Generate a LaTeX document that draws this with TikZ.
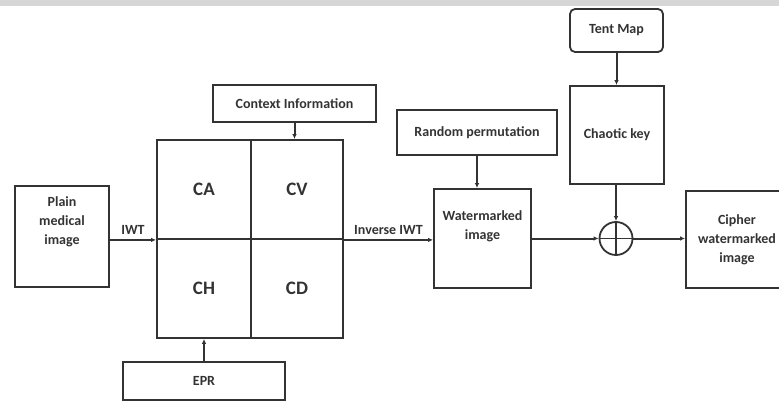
\documentclass[tikz,border=0pt]{standalone}
\usepackage{fontspec}
\setmainfont{Carlito}
\usetikzlibrary{arrows.meta}
\definecolor{ink}{HTML}{333333}
\definecolor{band}{HTML}{D6D6D6}
\begin{document}
\begin{tikzpicture}[x=1pt,y=-1pt,
  every node/.style={text=ink, font=\bfseries\fontsize{14}{19}\selectfont},
  box/.style={draw=ink, line width=1.8pt, inner sep=0pt},
  quad/.style={box, minimum width=#1, minimum height=99,
    font=\bfseries\fontsize{19}{22}\selectfont},
  link/.style={draw=ink, line width=2pt, -{Latex[length=5pt,width=4.5pt]}},
  wire/.style={draw=ink, line width=1.8pt}]
\clip (0,0) rectangle (779,401);
\fill[band] (0,0) rectangle (779,6);

% input image
\node[box, minimum width=94, minimum height=101] (pm) at (62,236.5) {};
\node[align=center] (pmtxt) at (62,222) {Plain\\medical\\image};

% IWT sub-bands
\node[quad=94] (ca) at (204,189.5) {CA};
\node[quad=92] (cv) at (297,189.5) {CV};
\node[quad=94] (ch) at (204,288.5) {CH};
\node[quad=92] (cd) at (297,288.5) {CD};

% side inputs of the embedding
\node[box, minimum width=163, minimum height=37] (ctx) at (294.5,103.5) {Context Information};
\node[box, minimum width=162, minimum height=38] (epr) at (204,381) {EPR};

% watermarked image and permutation
\node[box, minimum width=160, minimum height=45] (rp) at (477,132.5) {Random permutation};
\node[box, minimum width=97, minimum height=99] (wm) at (482.5,238.5) {};
\node[align=center] (wmtxt) at (482.5,226.5) {Watermarked\\image};

% chaotic encryption
\node[box, rounded corners=5pt, minimum width=93, minimum height=43] (tm) at (616.5,30.5) {Tent Map};
\node[box, minimum width=94, minimum height=98] (ck) at (617,135) {Chaotic key};
\node[draw=ink, line width=1.8pt, circle, minimum size=33, inner sep=0pt] (xr) at (616,238.5) {};
\draw[wire] (xr.north) -- (xr.south) (xr.west) -- (xr.east);

\node[box, minimum width=114, minimum height=97] (cw) at (743,239.5) {};
\node[align=center] (cwtxt) at (737,240) {Cipher\\watermarked\\image};

% connectors
\draw[link] (pm.east |- ca.south west) -- (ca.south west)
  node[midway, above=1pt] {IWT};
\draw[link] (cv.south east) -- (cv.south east -| wm.west)
  node[midway, above=1pt] {Inverse IWT};
\draw[link] (ctx.south) -- (ctx.south |- cv.north);
\draw[link] (epr.north) -- (epr.north |- ch.south);
\draw[link] (rp.south) -- (rp.south |- wm.north);
\draw[link] (tm.south) -- (tm.south |- ck.north);
\draw[link] (xr.north |- ck.south) -- (xr.north);
\draw[link] (wm.east) -- (xr.west);
\draw[link] (xr.east) -- (xr.east -| cw.west);
\end{tikzpicture}
\end{document}
